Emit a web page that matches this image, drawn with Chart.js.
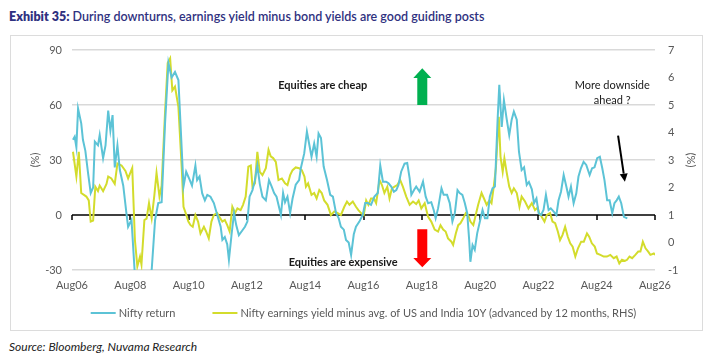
<!DOCTYPE html>
<html><head><meta charset="utf-8">
<script src="https://cdn.jsdelivr.net/npm/chart.js@4.4.1/dist/chart.umd.min.js"></script>
<style>
html,body{margin:0;padding:0;background:#fff;width:712px;height:357px;overflow:hidden;}
#title{position:absolute;left:9px;top:9px;font-family:Lato,sans-serif;font-size:12.5px;font-weight:600;color:#2f3180;white-space:nowrap;}
#title b{font-weight:800}
#box{position:absolute;left:10px;top:35px;width:693px;height:296px;border:1px solid #dcdcdc;box-sizing:border-box}
#cv{position:absolute;left:11px;top:36px}
#src{position:absolute;left:9px;top:339px;font-family:Lato,sans-serif;font-style:italic;font-size:12px;color:#222;white-space:nowrap}
</style></head>
<body>
<div id="title"><b>Exhibit 35:</b> During downturns, earnings yield minus bond yields are good guiding posts</div>
<div id="box"></div>
<canvas id="cv" width="691" height="294"></canvas>
<div id="src">Source: Bloomberg, Nuvama Research</div>
<script>
// x positions are months since Aug 2006
const tickLabels = ['Aug06','Aug08','Aug10','Aug12','Aug14','Aug16','Aug18','Aug20','Aug22','Aug24','Aug26'];
const seriesNames = ['Nifty return','Nifty earnings yield minus avg. of US and India 10Y (advanced by 12 months, RHS)'];

const niftyMonths = [0.4,1.1,1.8,2.5,3.8,4.5,5.5,6.6,7.7,8.7,9.4,10.7,11.4,12.8,13.8,14.9,15.8,16.7,17.6,18.7,19.7,21.1,22.4,23.1,24.5,25.9,28,30.5,32.8,34.2,35.5,36.9,38.3,39.7,41.0,42.4,43.8,45.2,45.9,47,48.5,49.4,50.8,51.5,52.5,53.6,54.7,55.7,57.0,58.4,59.8,61.2,61.9,62.9,63.9,64.6,65.7,66.7,67.6,68.7,69.8,71.2,72.2,73.1,74.3,75.3,76.3,77.3,78.4,79.8,81.1,82.2,83.2,84.2,86.0,86.9,87.7,88.7,89.8,90.8,92.1,93.5,94.2,95.6,96.7,97.6,98.6,99.7,100.7,101.5,102.5,103.6,105.0,106.3,107.4,108.7,109.8,110.7,111.9,112.8,113.9,114.9,116.0,116.9,118.3,119.7,120.7,121.8,123.1,124.5,125.9,126.9,128.0,129.3,130.3,131.4,132.5,133.5,134.4,135.5,136.9,138.0,139.0,139.7,140.8,141.7,143.1,144.5,145.6,146.6,147.9,148.9,149.7,150.7,152.1,153.0,154.4,155.5,156.6,157.6,158.7,159.6,160.7,161.7,162.7,163.5,164.0,164.9,165.8,166.8,167.9,169.0,170.0,171.0,172.0,173.1,174.1,175.2,175.9,176.9,177.8,178.9,180.0,181.0,181.9,183.1,184.0,185.1,186.1,187.2,188.1,189.3,190.2,191.2,192.1,193.1,194.1,195.1,196.2,197.1,198.3,199.4,200.3,201.3,202.4,203.5,204.4,205.4,206.5,207.6,208.5,209.5,210.6,211.7,213.1,214.1,215.1,216.2,217.3,218.3,219.2,220.3,221.3,222.4,223.3,224.2,225.1,226.1,227.2,228.6];
const niftyValues = [41,42.7,37,58,50,41,35,23,12,15,40,38,43.6,31,38,57,46,54.5,26,38,24.5,16,1,-6.4,-2.7,-33,-45,-52,-30,-2.7,6.5,7,50,83,75,78,73.6,35,15.5,23.6,19,16,27,19,21,11.8,8,11,10,6.5,0,-6.4,-13.6,-12,-16,-24.5,-10.5,1,-5.5,-11,-9,-6.4,-3.6,10,13.6,19,27,17,10,8,19,15.5,12,10,0,12,7,10,1,9,16.5,19,25.5,33.6,45.5,39,31.8,39,31.8,44.5,42,26.4,19,11,10,1,-1.8,-6.4,-8,-13.6,-15,-21.8,-10.5,-6.4,-3.6,0,6.5,6.5,5.5,10,12,27,18.2,18.2,17.3,15.5,12.7,13.6,16.4,23.6,28,28.4,20,11,13.6,15.5,12.7,18.2,10,6.4,7,2.7,-1.8,3.6,14.5,11,11,6.5,-3.6,1,13.6,12,11,6.5,1,-13.6,-25.5,-16.4,-19,-10,-3.6,2.7,-1.8,-1.8,10,14.5,15.5,51.8,71,48,62.7,52.7,43.6,52,56.4,52,34.5,24.5,26,16.4,18,14,6.5,9,1,0,2.7,11,2.7,3.6,1.8,0,8,12.7,21.8,15.5,10,15.5,6.4,11.8,21,25.5,29,27.3,21.8,25.5,26,31,31.8,25.5,19,8,8,1,6.4,8,10,6.4,-1,-1.8];

const eyMonths = [0.4,1.8,2.8,3.8,5.9,6.9,7.7,8.7,9.6,10.7,11.4,12.8,14.2,14.9,16.2,17.6,18.7,20.4,22.0,23.1,24.8,25.9,26.9,28.0,28.6,29.8,30.7,31.7,32.8,33.9,34.8,36.0,36.9,38.3,39.4,40.4,41.3,42.4,43.8,45.2,45.9,46.8,47.9,48.8,49.7,50.8,51.9,52.9,54.3,55.2,56.3,57.4,58.4,59.8,60.7,61.9,62.9,63.9,64.9,66.0,67.1,68.1,69.4,70.4,71.5,72.6,73.6,74.3,75.3,76.3,77.3,78.4,79.8,80.9,81.8,82.8,83.9,85.0,86.4,87.7,88.7,89.8,90.8,92.1,93.5,94.6,95.7,96.3,97.2,98.6,99.7,100.7,101.8,102.8,103.8,105.2,106.6,108.0,109.4,110.7,112.1,113.2,114.2,115.6,116.9,117.9,119.0,120.1,121.1,122.0,123.1,124.3,125.2,126.6,127.6,128.6,129.8,130.7,131.7,132.8,133.9,135.1,136.2,137.6,139.0,140.4,141.7,142.7,143.8,145.2,146.6,147.9,149.3,150.7,151.7,152.8,153.8,154.8,156.2,156.9,158.0,159.0,159.9,161.0,162.1,163.1,164.0,165.2,166.2,167.2,168.6,169.6,170.7,171.8,172.7,173.7,174.5,175.2,175.7,176.4,177.3,178.0,178.9,180.0,181.0,181.9,183.1,184.2,185.1,186.5,187.9,189.3,190.6,191.7,192.3,193.4,194.5,195.5,196.8,197.8,198.9,200.0,200.9,201.9,203.0,204.1,205.1,206.1,207.2,208.3,209.6,210.7,212.0,212.9,214.0,215.2,216.1,217.5,218.9,220.2,221.6,223.0,224.2,225.3,226.4,227.6,228.5,229.5,230.6,231.9,233.1,234.0,235.0,236.1,237.2,238.1,239.5,240];
const eyValues = [3.30,2.40,3.30,1.80,1.67,1.53,0.76,0.80,2.03,1.87,2.07,1.87,2.13,2.40,2.33,2.13,2.87,2.80,2.60,2.33,2.71,0.09,-0.87,-0.51,-0.80,0.82,0.87,1.43,0.88,1.71,2.53,1.67,2.07,4.73,6.53,6.70,5.53,5.67,4.93,2.67,1.30,1.07,0.76,0.63,0.57,1.00,0.76,0.33,0.57,0.40,0.15,0.76,1.00,1.07,0.93,0.76,0.82,0.63,0.40,1.30,1.07,1.24,1.18,1.37,1.67,2.76,2.80,2.03,2.15,3.30,2.57,2.45,2.70,3.37,3.13,3.07,2.93,2.27,2.33,2.15,2.09,2.45,2.63,2.73,2.70,2.63,2.40,2.03,2.15,1.73,1.80,1.60,1.91,1.80,1.53,1.37,1.00,1.13,1.07,1.00,1.30,1.49,1.37,1.49,1.30,1.18,1.07,1.00,1.53,1.37,1.60,1.60,1.43,2.27,2.09,1.80,2.03,1.60,1.97,2.03,2.09,2.27,2.03,1.67,1.37,1.49,1.40,1.53,1.24,1.43,0.93,0.76,0.47,0.40,0.63,0.47,0.40,0.15,0.03,-0.09,0.33,0.63,0.70,0.87,1.07,1.00,0.76,0.63,1.00,1.37,1.80,1.60,1.37,1.53,1.43,2.09,2.70,3.85,4.57,3.12,2.57,3.06,2.57,2.03,1.80,1.97,1.80,1.30,1.67,1.49,1.24,1.43,1.18,1.27,1.07,0.93,0.76,1.00,1.07,0.76,0.70,0.40,0.09,0.27,0.57,0.21,-0.03,-0.15,-0.51,-0.21,0.03,0.03,0.33,0.21,-0.03,-0.15,-0.40,-0.45,-0.51,-0.51,-0.45,-0.57,-0.51,-0.76,-0.63,-0.67,-0.63,-0.51,-0.57,-0.45,-0.33,-0.33,0.03,-0.21,-0.33,-0.45,-0.40,-0.45];

// annotations (x in months, y in LHS units)
const notes = [
  {text:'Equities are cheap', m:103.2, v:70.9, bold:true},
  {text:'Equities are expensive', m:111.6, v:-26, bold:true},
  {text:'More downside', m:222.4, v:70.9, bold:false},
  {text:'ahead ?', m:222.4, v:62.4, bold:false}
];
const blockArrows = [
  {m:144.2, tail:60, head:74.7, tip:80, color:'#00b050'},
  {m:144.2, tail:-7.8, head:-23.5, tip:-28.5, color:'#ff0000'}
];
const pointerArrow = {m0:224.8, v0:43.3, m1:227.6, v1:18.2};

const CYAN = '#5cc3d6', LIME = '#d3dc2c';
const FONT = 'Lato, sans-serif';

const zeroLine = {
  id:'zeroLine',
  beforeDatasetsDraw(chart){
    const {ctx, chartArea:a, scales:{x,y}} = chart;
    const py = Math.round(y.getPixelForValue(0));
    ctx.save(); ctx.strokeStyle='#000'; ctx.lineWidth=1.5;
    ctx.beginPath(); ctx.moveTo(a.left,py); ctx.lineTo(a.right,py);
    x.ticks.forEach(t=>{const px=Math.round(x.getPixelForValue(t.value)); ctx.moveTo(px,py); ctx.lineTo(px,py+5);});
    ctx.stroke(); ctx.restore();
  }
};
const annot = {
  id:'annot',
  afterDatasetsDraw(chart){
    const {ctx, scales:{x,y}} = chart;
    ctx.save();
    ctx.textAlign='center'; ctx.textBaseline='middle';
    notes.forEach(n=>{
      ctx.font=(n.bold?'bold ':'')+'11px '+FONT;
      ctx.fillStyle='#1a1a1a';
      ctx.fillText(n.text, x.getPixelForValue(n.m), y.getPixelForValue(n.v));
    });
    blockArrows.forEach(b=>{
      const cx=x.getPixelForValue(b.m), yt=y.getPixelForValue(b.tail), yh=y.getPixelForValue(b.head), yp=y.getPixelForValue(b.tip);
      const sw=5, hw=9;
      ctx.fillStyle=b.color; ctx.beginPath();
      ctx.moveTo(cx-sw,yt); ctx.lineTo(cx-sw,yh); ctx.lineTo(cx-hw,yh); ctx.lineTo(cx,yp);
      ctx.lineTo(cx+hw,yh); ctx.lineTo(cx+sw,yh); ctx.lineTo(cx+sw,yt); ctx.closePath(); ctx.fill();
    });
    const p=pointerArrow;
    const x0=x.getPixelForValue(p.m0), y0=y.getPixelForValue(p.v0), x1=x.getPixelForValue(p.m1), y1=y.getPixelForValue(p.v1);
    const ang=Math.atan2(y1-y0,x1-x0), L=8, W=4;
    const bx=x1-L*Math.cos(ang), by=y1-L*Math.sin(ang);
    ctx.strokeStyle='#000'; ctx.lineWidth=2;
    ctx.beginPath(); ctx.moveTo(x0,y0); ctx.lineTo(bx,by); ctx.stroke();
    ctx.fillStyle='#000'; ctx.beginPath();
    ctx.moveTo(x1,y1); ctx.lineTo(bx+W*Math.sin(ang),by-W*Math.cos(ang)); ctx.lineTo(bx-W*Math.sin(ang),by+W*Math.cos(ang)); ctx.closePath(); ctx.fill();
    ctx.restore();
  }
};
// legend drawn below the axis, centred on the plot area
const lineLegend = {
  id:'lineLegend',
  afterDraw(chart){
    const {ctx, chartArea:a} = chart;
    const sample=25, gapText=3, gapItem=37;
    ctx.save();
    ctx.font='11px '+FONT; ctx.textBaseline='middle'; ctx.textAlign='left';
    const items = chart.data.datasets.map(d=>({label:d.label, color:d.borderColor, w:sample+gapText+ctx.measureText(d.label).width}));
    const total = items.reduce((s,i)=>s+i.w,0)+gapItem*(items.length-1);
    let xx = (a.left+a.right)/2 - total/2;
    const yy = a.bottom + 43;
    items.forEach(it=>{
      ctx.strokeStyle=it.color; ctx.lineWidth=2;
      ctx.beginPath(); ctx.moveTo(xx,yy); ctx.lineTo(xx+sample,yy); ctx.stroke();
      ctx.fillStyle='#595959'; ctx.fillText(it.label, xx+sample+gapText, yy);
      xx += it.w + gapItem;
    });
    ctx.restore();
  }
};

new Chart(document.getElementById('cv'), {
  type:'line',
  data:{datasets:[
    {label:seriesNames[0], data:niftyMonths.map((m,i)=>({x:m,y:niftyValues[i]})), yAxisID:'y', borderColor:CYAN, backgroundColor:CYAN, borderWidth:2, pointRadius:0, tension:0},
    {label:seriesNames[1], data:eyMonths.map((m,i)=>({x:m,y:eyValues[i]})), yAxisID:'y1', borderColor:LIME, backgroundColor:LIME, borderWidth:2, pointRadius:0, tension:0}
  ]},
  options:{
    responsive:false, animation:false, devicePixelRatio:1,
    layout:{padding:{top:14,left:18,right:5,bottom:37}},
    plugins:{ legend:{display:false}, tooltip:{enabled:false} },
    scales:{
      x:{type:'linear', min:0, max:240, grid:{display:false, drawTicks:false}, border:{display:false},
         ticks:{stepSize:24, autoSkip:false, maxRotation:0, padding:9, color:'#595959', font:{family:FONT,size:11}, callback:v=>tickLabels[v/24]||''},
         afterFit:s=>{s.height=23;}},
      y:{position:'left', min:-30, max:90, border:{display:false},
         grid:{color:c=>c.tick && c.tick.value===0?'rgba(0,0,0,0)':'#d9d9d9', lineWidth:1.5, drawTicks:false},
         ticks:{stepSize:30, padding:10, color:'#595959', font:{family:FONT,size:11}},
         title:{display:true, text:'(%)', color:'#595959', font:{family:FONT,size:11}, padding:0},
         afterFit:s=>{s.width=43; s.paddingTop=0; s.paddingBottom=0;}},
      y1:{position:'right', min:-1, max:7, border:{display:false}, grid:{display:false, drawTicks:false},
         ticks:{stepSize:1, padding:13, color:'#595959', font:{family:FONT,size:11}},
         title:{display:true, text:'(%)', color:'#595959', font:{family:FONT,size:11}, padding:0},
         afterFit:s=>{s.width=42; s.paddingTop=0; s.paddingBottom=0;}}
    }
  },
  plugins:[zeroLine, annot, lineLegend]
});
</script>
</body></html>
